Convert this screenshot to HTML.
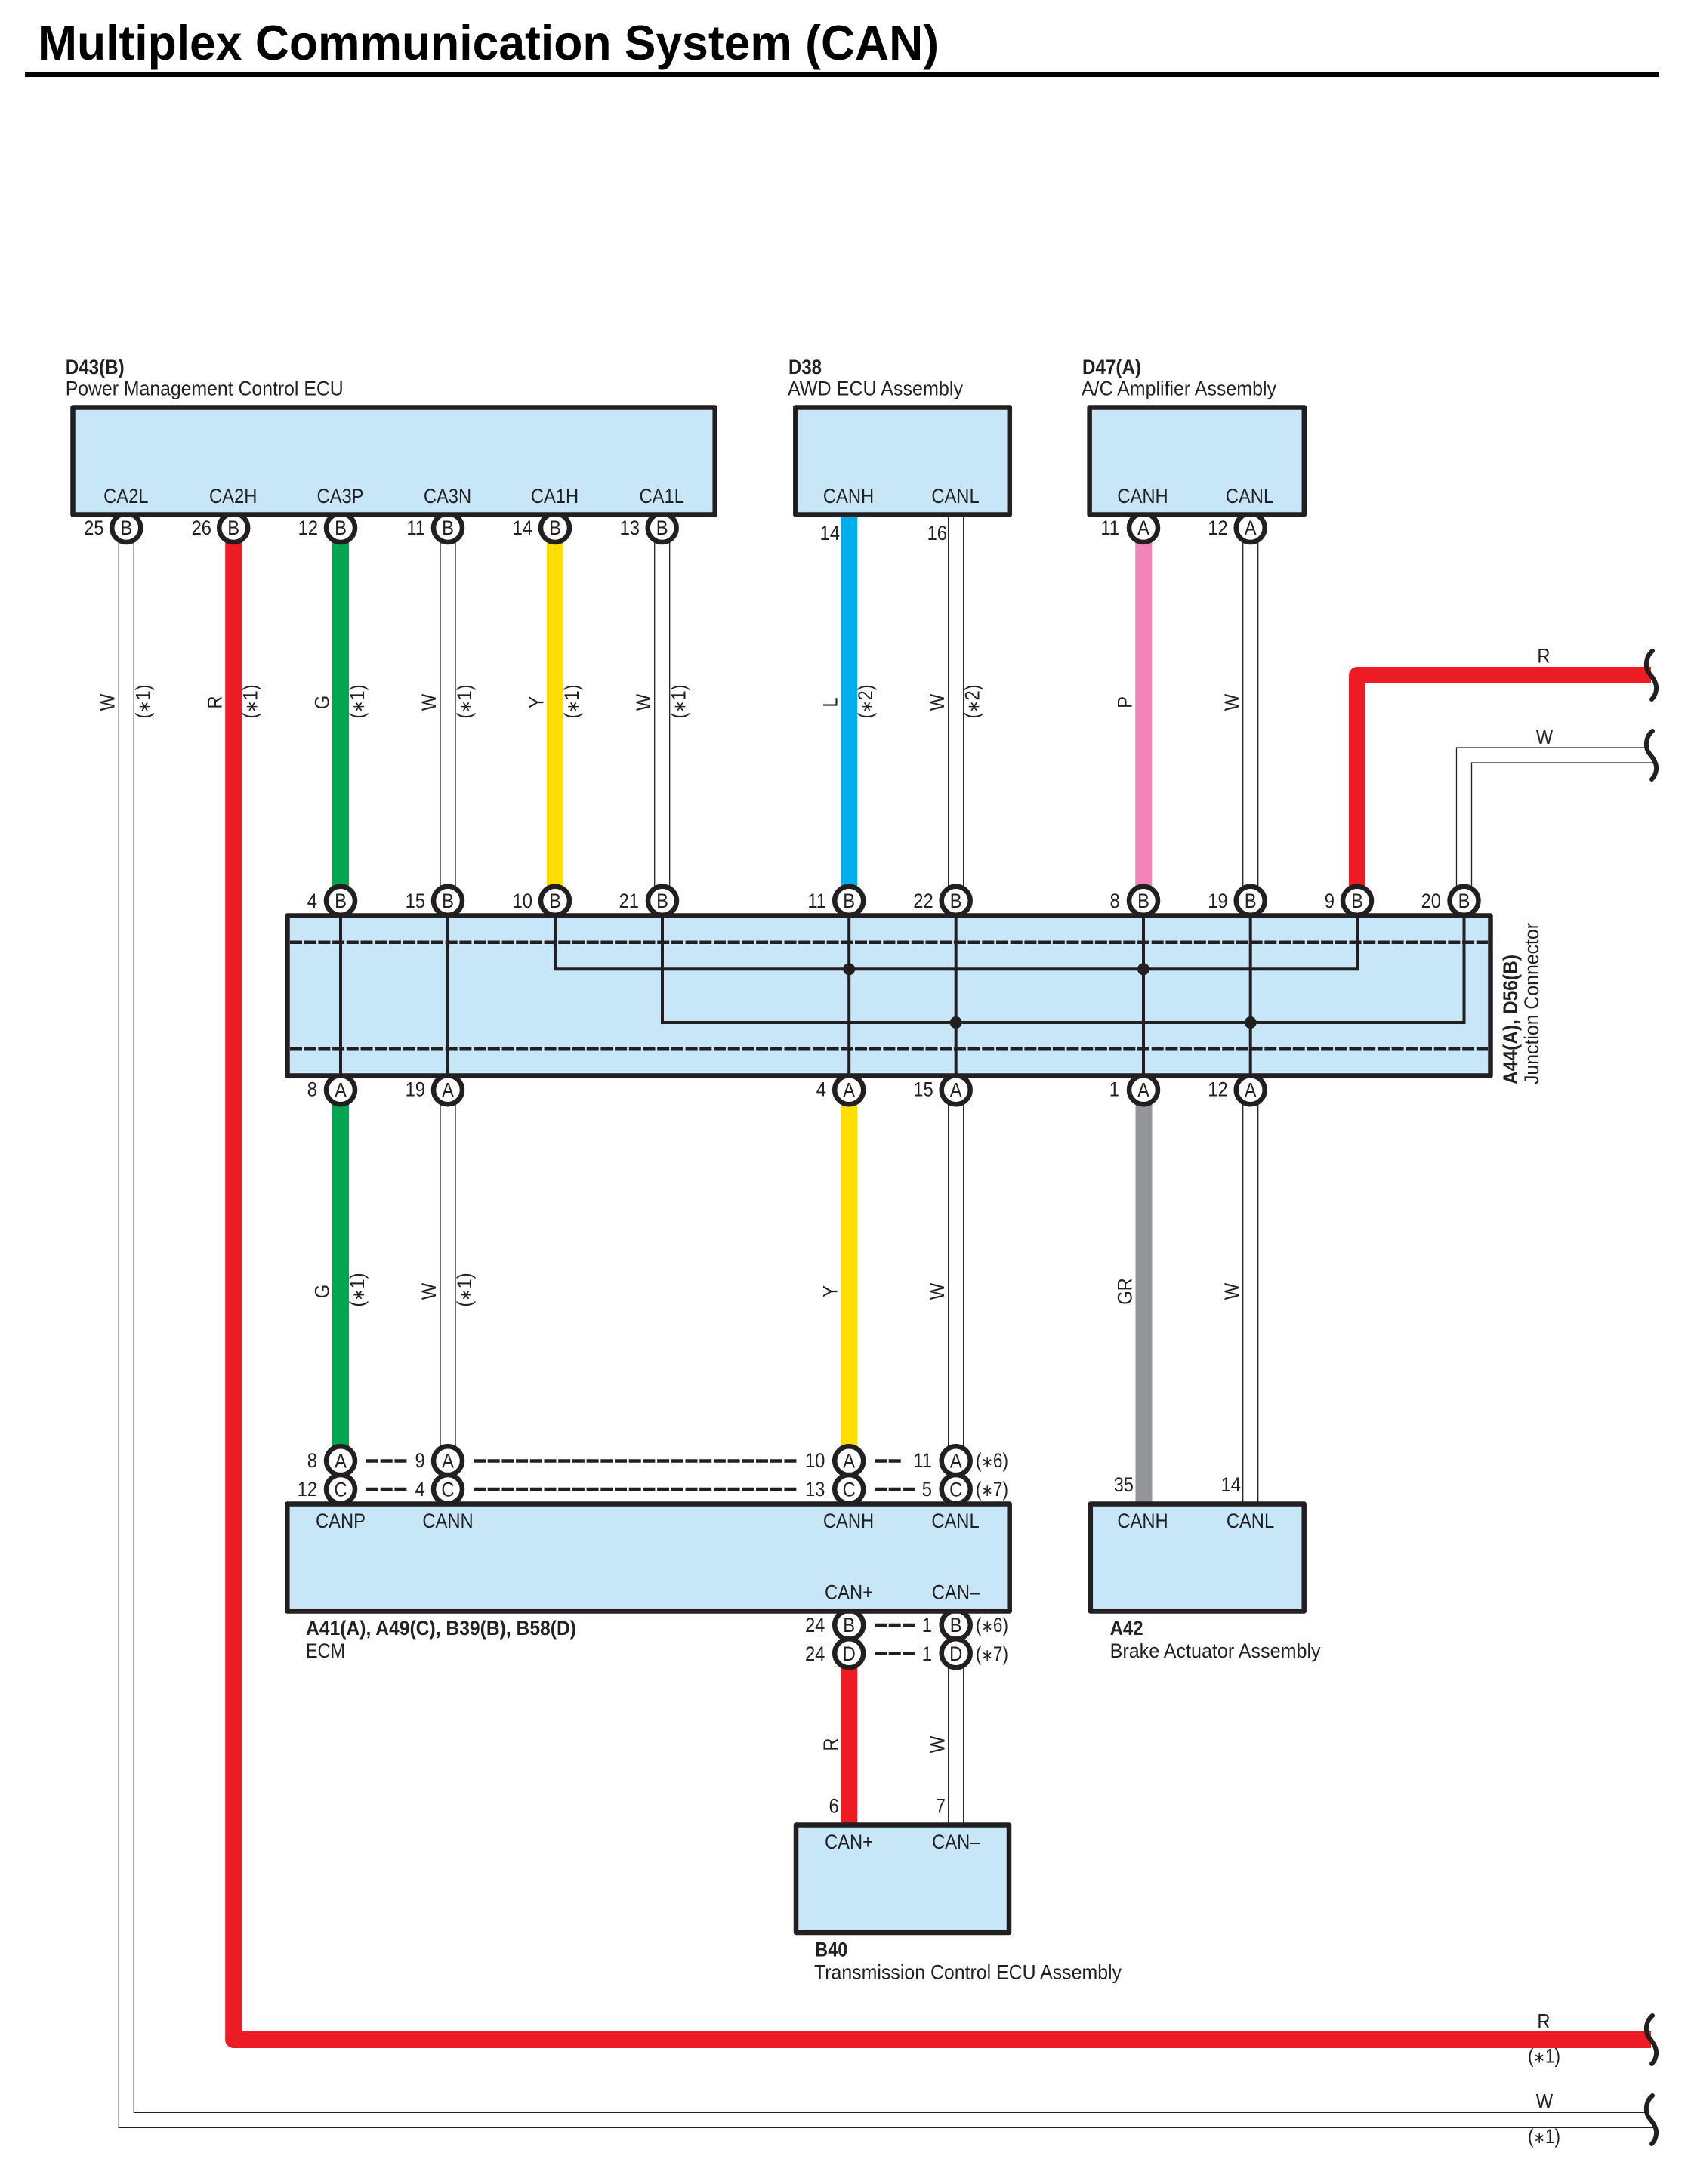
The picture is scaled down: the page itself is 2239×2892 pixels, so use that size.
<!DOCTYPE html>
<html><head><meta charset="utf-8"><title>Multiplex Communication System (CAN)</title>
<style>
html,body{margin:0;padding:0;background:#fff}
svg{display:block}
text{font-family:"Liberation Sans",sans-serif;font-size:27px;fill:#231f20}
.b{font-weight:bold}
.s{font-size:22px}
.m,.e,.c{transform-box:fill-box;transform:scaleX(.88)}
.m,.c{text-anchor:middle;transform-origin:center}
.e{text-anchor:end;transform-origin:right center}
.box{fill:#c7e7f9;stroke:#231f20;stroke-width:6.5;stroke-linejoin:round}
.w{stroke:#231f20;stroke-width:1.3;fill:none}
.p{fill:#fff;stroke:#231f20;stroke-width:6.5}
.in{stroke:#231f20;stroke-width:4;fill:none}
.d{stroke:#231f20;stroke-width:4.5;fill:none;stroke-dasharray:16 2.7}
.sq{stroke:#231f20;stroke-width:6;fill:none;stroke-linecap:round}
</style></head><body>
<svg width="2239" height="2892" viewBox="0 0 2239 2892" xmlns="http://www.w3.org/2000/svg">
<rect width="2239" height="2892" fill="#fff"/>
<text x="50" y="79" class="b" style="font-size:65px;fill:#000" textLength="1193" lengthAdjust="spacingAndGlyphs">Multiplex Communication System (CAN)</text>
<rect x="33" y="95" width="2164" height="7" fill="#000"/>

<!-- wires -->
<g fill="none" stroke-linejoin="round">
<path d="M309.2 715V2701H2186" stroke="#ed1c24" stroke-width="22"/>
<path d="M1797 1175V894H2186" stroke="#ed1c24" stroke-width="22"/>
<path d="M451 715V1175" stroke="#00a651" stroke-width="22"/>
<path d="M451 1440V1915" stroke="#00a651" stroke-width="22"/>
<path d="M735 715V1175" stroke="#ffde00" stroke-width="22"/>
<path d="M1124.2 685V1175" stroke="#00aeef" stroke-width="22"/>
<path d="M1514.2 715V1175" stroke="#f285b8" stroke-width="22"/>
<path d="M1124.2 1440V1915" stroke="#ffde00" stroke-width="22"/>
<path d="M1514.5 1440V1990" stroke="#939598" stroke-width="22"/>
<path d="M1124.2 2190V2416" stroke="#ed1c24" stroke-width="22"/>
</g>
<g class="w">
<path d="M157.3 715V2817.3H2192"/><path d="M177.3 715V2797.3H2180"/>
<path d="M583 715V1175M603 715V1175"/>
<path d="M866.7 715V1175M886.7 715V1175"/>
<path d="M1255.7 685V1175M1275.7 685V1175"/>
<path d="M1645.7 715V1175M1665.7 715V1175"/>
<path d="M1928.5 1175V990H2180M1948.5 1175V1010H2192"/>
<path d="M583 1440V1915M603 1440V1915"/>
<path d="M1255.7 1440V1915M1275.7 1440V1915"/>
<path d="M1645.7 1440V1990M1665.7 1440V1990"/>
<path d="M1255.7 2190V2416M1275.7 2190V2416"/>
</g>

<!-- squiggles -->
<path id="s1" class="sq" d="M2188 862C2178 870 2178 885 2184 892C2190 899 2194 906 2193 913C2192.5 918 2190 923 2187 926"/>
<path class="sq" transform="translate(0,106)" d="M2188 862C2178 870 2178 885 2184 892C2190 899 2194 906 2193 913C2192.5 918 2190 923 2187 926"/>
<path class="sq" transform="translate(0,1807)" d="M2188 862C2178 870 2178 885 2184 892C2190 899 2194 906 2193 913C2192.5 918 2190 923 2187 926"/>
<path class="sq" transform="translate(0,1913)" d="M2188 862C2178 870 2178 885 2184 892C2190 899 2194 906 2193 913C2192.5 918 2190 923 2187 926"/>

<!-- pin circles -->
<g class="p">
<circle cx="167.3" cy="699" r="19"/><circle cx="309.2" cy="699" r="19"/><circle cx="451" cy="699" r="19"/><circle cx="593" cy="699" r="19"/><circle cx="735" cy="699" r="19"/><circle cx="876.7" cy="699" r="19"/>
<circle cx="1514" cy="699" r="19"/><circle cx="1655.7" cy="699" r="19"/>
<circle cx="451" cy="1192.7" r="19"/><circle cx="593" cy="1192.7" r="19"/><circle cx="735" cy="1192.7" r="19"/><circle cx="877" cy="1192.7" r="19"/><circle cx="1124.2" cy="1192.7" r="19"/><circle cx="1265.7" cy="1192.7" r="19"/><circle cx="1514" cy="1192.7" r="19"/><circle cx="1655.7" cy="1192.7" r="19"/><circle cx="1797" cy="1192.7" r="19"/><circle cx="1938.5" cy="1192.7" r="19"/>
<circle cx="451" cy="1443.3" r="19"/><circle cx="593" cy="1443.3" r="19"/><circle cx="1124.2" cy="1443.3" r="19"/><circle cx="1265.7" cy="1443.3" r="19"/><circle cx="1514" cy="1443.3" r="19"/><circle cx="1655.7" cy="1443.3" r="19"/>
<circle cx="451" cy="1934.3" r="19"/><circle cx="593" cy="1934.3" r="19"/><circle cx="1124.2" cy="1934.3" r="19"/><circle cx="1265.7" cy="1934.3" r="19"/>
<circle cx="451" cy="1972" r="19"/><circle cx="593" cy="1972" r="19"/><circle cx="1124.2" cy="1972" r="19"/><circle cx="1265.7" cy="1972" r="19"/>
<circle cx="1124.2" cy="2151.7" r="19"/><circle cx="1265.7" cy="2151.7" r="19"/>
<circle cx="1124.2" cy="2189.3" r="19"/><circle cx="1265.7" cy="2189.3" r="19"/>
</g>

<!-- boxes -->
<rect class="box" x="96.5" y="539.5" width="850.2" height="142"/>
<rect class="box" x="1053.3" y="539.5" width="283.5" height="142"/>
<rect class="box" x="1442.6" y="539.5" width="284.2" height="142"/>
<rect class="box" x="380.5" y="1212.5" width="1593" height="212"/>
<rect class="box" x="380.3" y="1991.5" width="956.4" height="142"/>
<rect class="box" x="1443.8" y="1991.5" width="282.9" height="142"/>
<rect class="box" x="1054" y="2416.5" width="282" height="142.5"/>

<!-- junction internals -->
<path class="d" d="M384 1247.7H1970M384 1389.3H1970"/>
<path class="in" d="M451 1214V1422M593 1214V1422M1124.2 1214V1422M1265.7 1214V1422M1514 1214V1422M1655.7 1214V1422"/>
<path class="in" d="M735 1214V1283.3H1797V1214M877 1214V1354H1938.5V1214"/>
<g fill="#231f20"><circle cx="1124.2" cy="1283.3" r="8"/><circle cx="1514" cy="1283.3" r="8"/><circle cx="1265.7" cy="1354" r="8"/><circle cx="1655.7" cy="1354" r="8"/></g>

<!-- dashed lines -->
<path class="d" d="M485 1934.5H540M485 1972H540M627 1934.5H1055M627 1972H1055M1158 1934.5H1193M1158 1972H1212M1158 2152H1212M1158 2189.5H1212"/>

<!-- box headers -->
<text x="86.7" y="495" class="b" textLength="78" lengthAdjust="spacingAndGlyphs">D43(B)</text>
<text x="86.7" y="523.3" textLength="368" lengthAdjust="spacingAndGlyphs">Power Management Control ECU</text>
<text x="1044" y="495" class="b" textLength="44" lengthAdjust="spacingAndGlyphs">D38</text>
<text x="1043" y="523.3" textLength="232" lengthAdjust="spacingAndGlyphs">AWD ECU Assembly</text>
<text x="1433" y="495" class="b" textLength="78" lengthAdjust="spacingAndGlyphs">D47(A)</text>
<text x="1432" y="523.3" textLength="258" lengthAdjust="spacingAndGlyphs">A/C Amplifier Assembly</text>
<text x="405" y="2165" class="b" textLength="358" lengthAdjust="spacingAndGlyphs">A41(A), A49(C), B39(B), B58(D)</text>
<text x="405" y="2195" textLength="52" lengthAdjust="spacingAndGlyphs">ECM</text>
<text x="1469.6" y="2165" class="b" textLength="44" lengthAdjust="spacingAndGlyphs">A42</text>
<text x="1469.6" y="2195" textLength="279" lengthAdjust="spacingAndGlyphs">Brake Actuator Assembly</text>
<text x="1079.3" y="2590.7" class="b" textLength="43" lengthAdjust="spacingAndGlyphs">B40</text>
<text x="1078" y="2620.7" textLength="407" lengthAdjust="spacingAndGlyphs">Transmission Control ECU Assembly</text>
<g transform="translate(2009,1436) rotate(-90)"><text class="b" textLength="172" lengthAdjust="spacingAndGlyphs">A44(A), D56(B)</text></g>
<g transform="translate(2037,1436) rotate(-90)"><text textLength="214" lengthAdjust="spacingAndGlyphs">Junction Connector</text></g>

<!-- terminal names -->
<g>
<text class="m" x="166.8" y="666">CA2L</text><text class="m" x="308.7" y="666">CA2H</text><text class="m" x="450.5" y="666">CA3P</text><text class="m" x="592.5" y="666">CA3N</text><text class="m" x="734.5" y="666">CA1H</text><text class="m" x="876.2" y="666">CA1L</text>
<text class="m" x="1123.5" y="666">CANH</text><text class="m" x="1265" y="666">CANL</text><text class="m" x="1513" y="666">CANH</text><text class="m" x="1654.5" y="666">CANL</text>
<text class="m" x="451" y="2023">CANP</text><text class="m" x="593" y="2023">CANN</text><text class="m" x="1123.5" y="2023">CANH</text><text class="m" x="1265" y="2023">CANL</text><text class="m" x="1513" y="2023">CANH</text><text class="m" x="1655.5" y="2023">CANL</text>
<text class="m" x="1124" y="2117.3">CAN+</text><text class="m" x="1265.5" y="2117.3">CAN–</text>
<text class="m" x="1124" y="2448">CAN+</text><text class="m" x="1265.7" y="2448">CAN–</text>
</g>

<!-- pin letters -->
<g>
<text class="c" x="167.3" y="708">B</text><text class="c" x="309.2" y="708">B</text><text class="c" x="451" y="708">B</text><text class="c" x="593" y="708">B</text><text class="c" x="735" y="708">B</text><text class="c" x="876.7" y="708">B</text>
<text class="c" x="1514" y="708">A</text><text class="c" x="1655.7" y="708">A</text>
<text class="c" x="451" y="1202">B</text><text class="c" x="593" y="1202">B</text><text class="c" x="735" y="1202">B</text><text class="c" x="877" y="1202">B</text><text class="c" x="1124.2" y="1202">B</text><text class="c" x="1265.7" y="1202">B</text><text class="c" x="1514" y="1202">B</text><text class="c" x="1655.7" y="1202">B</text><text class="c" x="1797" y="1202">B</text><text class="c" x="1938.5" y="1202">B</text>
<text class="c" x="451" y="1452.5">A</text><text class="c" x="593" y="1452.5">A</text><text class="c" x="1124.2" y="1452.5">A</text><text class="c" x="1265.7" y="1452.5">A</text><text class="c" x="1514" y="1452.5">A</text><text class="c" x="1655.7" y="1452.5">A</text>
<text class="c" x="451" y="1943.5">A</text><text class="c" x="593" y="1943.5">A</text><text class="c" x="1124.2" y="1943.5">A</text><text class="c" x="1265.7" y="1943.5">A</text>
<text class="c" x="451" y="1981.5">C</text><text class="c" x="593" y="1981.5">C</text><text class="c" x="1124.2" y="1981.5">C</text><text class="c" x="1265.7" y="1981.5">C</text>
<text class="c" x="1124.2" y="2161">B</text><text class="c" x="1265.7" y="2161">B</text>
<text class="c" x="1124.2" y="2198.8">D</text><text class="c" x="1265.7" y="2198.8">D</text>
</g>

<!-- pin numbers -->
<g>
<text class="e" x="137.5" y="708">25</text><text class="e" x="280" y="708">26</text><text class="e" x="421" y="708">12</text><text class="e" x="563" y="708">11</text><text class="e" x="705" y="708">14</text><text class="e" x="847" y="708">13</text>
<text class="e" x="1112" y="715">14</text><text class="e" x="1254" y="715">16</text>
<text class="e" x="1482" y="708">11</text><text class="e" x="1625.7" y="708">12</text>
<text class="e" x="420" y="1202">4</text><text class="e" x="563" y="1202">15</text><text class="e" x="705" y="1202">10</text><text class="e" x="846" y="1202">21</text><text class="e" x="1094" y="1202">11</text><text class="e" x="1235.7" y="1202">22</text><text class="e" x="1482.7" y="1202">8</text><text class="e" x="1625.7" y="1202">19</text><text class="e" x="1767" y="1202">9</text><text class="e" x="1908" y="1202">20</text>
<text class="e" x="420" y="1451.5">8</text><text class="e" x="563" y="1451.5">19</text><text class="e" x="1094" y="1451.5">4</text><text class="e" x="1235.7" y="1451.5">15</text><text class="e" x="1482" y="1451.5">1</text><text class="e" x="1625.7" y="1451.5">12</text>
<text class="e" x="420" y="1943">8</text><text class="e" x="562.7" y="1943">9</text><text class="e" x="1092.4" y="1943">10</text><text class="e" x="1234" y="1943">11</text>
<text class="e" x="420" y="1981">12</text><text class="e" x="562.7" y="1981">4</text><text class="e" x="1092.4" y="1981">13</text><text class="e" x="1234" y="1981">5</text>
<text class="e" x="1092.4" y="2161">24</text><text class="e" x="1234" y="2161">1</text>
<text class="e" x="1092.4" y="2199">24</text><text class="e" x="1234" y="2199">1</text>
<text class="e" x="1501" y="1975">35</text><text class="e" x="1643" y="1975">14</text>
<text class="e" x="1110.7" y="2400.7">6</text><text class="e" x="1252" y="2400.7">7</text>
</g>

<!-- notes -->
<g>
<text x="1292" y="1943" textLength="43" lengthAdjust="spacingAndGlyphs">(<tspan class="s">∗</tspan>6)</text>
<text x="1292" y="1981" textLength="43" lengthAdjust="spacingAndGlyphs">(<tspan class="s">∗</tspan>7)</text>
<text x="1292" y="2161" textLength="43" lengthAdjust="spacingAndGlyphs">(<tspan class="s">∗</tspan>6)</text>
<text x="1292" y="2199" textLength="43" lengthAdjust="spacingAndGlyphs">(<tspan class="s">∗</tspan>7)</text>
<text class="c" x="2044" y="877.5">R</text><text class="c" x="2045" y="985">W</text>
<text class="c" x="2044" y="2685.7">R</text><text class="c" x="2045" y="2791.7">W</text>
<text x="2023" y="2731.7" textLength="43" lengthAdjust="spacingAndGlyphs">(<tspan class="s">∗</tspan>1)</text>
<text x="2023" y="2838" textLength="43" lengthAdjust="spacingAndGlyphs">(<tspan class="s">∗</tspan>1)</text>
</g>

<!-- rotated wire colours -->
<g transform="translate(151.7,930) rotate(-90)"><text class="c">W</text></g>
<g transform="translate(293.5,930) rotate(-90)"><text class="c">R</text></g>
<g transform="translate(435.7,930) rotate(-90)"><text class="c">G</text></g>
<g transform="translate(577,930) rotate(-90)"><text class="c">W</text></g>
<g transform="translate(719.5,930) rotate(-90)"><text class="c">Y</text></g>
<g transform="translate(861,930) rotate(-90)"><text class="c">W</text></g>
<g transform="translate(1108.7,930) rotate(-90)"><text class="c">L</text></g>
<g transform="translate(1250,930) rotate(-90)"><text class="c">W</text></g>
<g transform="translate(1498.5,930) rotate(-90)"><text class="c">P</text></g>
<g transform="translate(1640,930) rotate(-90)"><text class="c">W</text></g>
<g transform="translate(435.7,1710) rotate(-90)"><text class="c">G</text></g>
<g transform="translate(577,1710) rotate(-90)"><text class="c">W</text></g>
<g transform="translate(1108.7,1710) rotate(-90)"><text class="c">Y</text></g>
<g transform="translate(1250,1710) rotate(-90)"><text class="c">W</text></g>
<g transform="translate(1498.5,1710) rotate(-90)"><text class="c">GR</text></g>
<g transform="translate(1640,1710) rotate(-90)"><text class="c">W</text></g>
<g transform="translate(1109,2310) rotate(-90)"><text class="c">R</text></g>
<g transform="translate(1250.7,2310) rotate(-90)"><text class="c">W</text></g>

<!-- rotated notes -->
<g transform="translate(198.3,929) rotate(-90)"><text class="c">(<tspan class="s">∗</tspan>1)</text></g>
<g transform="translate(340.3,929) rotate(-90)"><text class="c">(<tspan class="s">∗</tspan>1)</text></g>
<g transform="translate(482,929) rotate(-90)"><text class="c">(<tspan class="s">∗</tspan>1)</text></g>
<g transform="translate(624,929) rotate(-90)"><text class="c">(<tspan class="s">∗</tspan>1)</text></g>
<g transform="translate(766,929) rotate(-90)"><text class="c">(<tspan class="s">∗</tspan>1)</text></g>
<g transform="translate(907.7,929) rotate(-90)"><text class="c">(<tspan class="s">∗</tspan>1)</text></g>
<g transform="translate(1155.2,929) rotate(-90)"><text class="c">(<tspan class="s">∗</tspan>2)</text></g>
<g transform="translate(1296.7,929) rotate(-90)"><text class="c">(<tspan class="s">∗</tspan>2)</text></g>
<g transform="translate(482,1708) rotate(-90)"><text class="c">(<tspan class="s">∗</tspan>1)</text></g>
<g transform="translate(624,1708) rotate(-90)"><text class="c">(<tspan class="s">∗</tspan>1)</text></g>
</svg>
</body></html>
